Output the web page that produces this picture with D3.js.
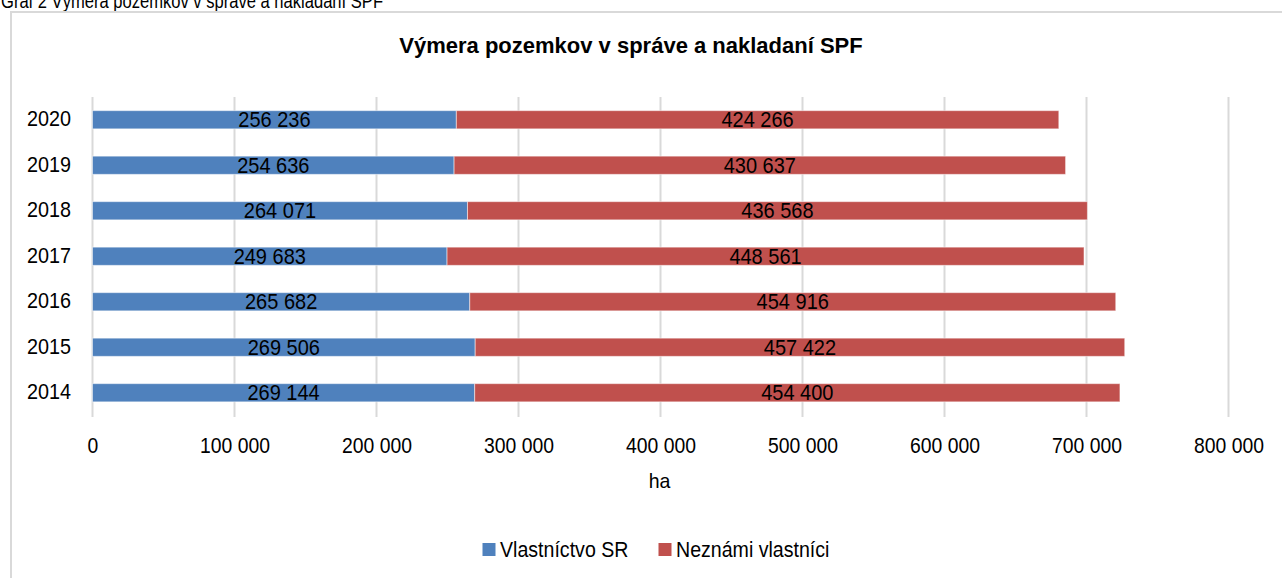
<!DOCTYPE html>
<html>
<head>
<meta charset="utf-8">
<script src="https://cdn.jsdelivr.net/npm/d3@7"></script>
<style>
  body { margin: 0; background: #fff; overflow: hidden; }
  text { font-family: "Liberation Sans", Arial, sans-serif; fill: #000; }
</style>
</head>
<body>
<div id="viz"></div>
<script>
var years = ["2020", "2019", "2018", "2017", "2016", "2015", "2014"];
var vlastnictvo = [256236, 254636, 264071, 249683, 265682, 269506, 269144];
var neznami = [424266, 430637, 436568, 448561, 454916, 457422, 454400];
var seriesNames = ["Vlastníctvo SR", "Neznámi vlastníci"];
var xTicks = [0, 100000, 200000, 300000, 400000, 500000, 600000, 700000, 800000];

var width = 1282, height = 578;
var svg = d3.select("#viz").append("svg").attr("width", width).attr("height", height);

var color = d3.scaleOrdinal().domain(seriesNames).range(["#4f81bd", "#c0504d"]);
var fmt = function(v) { return d3.format(",")(v).replace(/,/g, " "); };

// squeeze text horizontally (the original uses a narrow font)
function narrow(sel, k) {
  sel.each(function() {
    var w = this.getComputedTextLength();
    d3.select(this).attr("textLength", w * k).attr("lengthAdjust", "spacingAndGlyphs");
  });
}

// caption above the frame (cut off at top)
svg.append("text")
    .attr("x", 1)
    .attr("y", 8)
    .attr("textLength", 382)
    .attr("lengthAdjust", "spacingAndGlyphs")
    .style("font-size", "20px")
    .text("Graf 2  Výmera pozemkov v správe a nakladaní SPF");

// chart frame
svg.append("rect")
    .attr("x", 11)
    .attr("y", 12)
    .attr("width", 1300)
    .attr("height", 600)
    .attr("fill", "#fff")
    .attr("stroke", "#d9d9d9")
    .attr("stroke-width", 2);

svg.append("text")
    .attr("x", 631)
    .attr("y", 53)
    .attr("text-anchor", "middle")
    .style("font-size", "22px")
    .style("font-weight", "bold")
    .text("Výmera pozemkov v správe a nakladaní SPF");

var x = d3.scaleLinear().domain([0, 800000]).range([92.5, 1228.5]);
var y = d3.scaleBand().domain(years).range([97, 415.5]).paddingInner(0.6).paddingOuter(0.3);

// gridlines
svg.append("g")
  .selectAll("line")
  .data(xTicks)
  .enter().append("line")
    .attr("x1", function(d) { return x(d); })
    .attr("x2", function(d) { return x(d); })
    .attr("y1", 97)
    .attr("y2", 417)
    .attr("stroke", "#d9d9d9")
    .attr("stroke-width", 2);

var stackData = years.map(function(yr, i) {
  return { year: yr, "Vlastníctvo SR": vlastnictvo[i], "Neznámi vlastníci": neznami[i] };
});
var stacked = d3.stack().keys(seriesNames)(stackData);

var layer = svg.append("g").selectAll("g")
  .data(stacked)
  .enter().append("g")
    .attr("fill", function(d) { return color(d.key); });

layer.selectAll("rect")
  .data(function(d) { return d; })
  .enter().append("rect")
    .attr("x", function(d) { return x(d[0]); })
    .attr("y", function(d) { return y(d.data.year); })
    .attr("width", function(d) { return x(d[1]) - x(d[0]); })
    .attr("height", y.bandwidth())
    .attr("stroke", "#fff")
    .attr("stroke-opacity", 0.5)
    .attr("stroke-width", 1);

layer.selectAll("text")
  .data(function(d) { return d; })
  .enter().append("text")
    .attr("x", function(d) { return (x(d[0]) + x(d[1])) / 2; })
    .attr("y", function(d) { return y(d.data.year) + y.bandwidth() / 2; })
    .attr("dy", "0.35em")
    .attr("text-anchor", "middle")
    .style("font-size", "21.5px")
    .text(function(d) { return fmt(d[1] - d[0]); })
    .call(narrow, 0.93);

// category axis
var yAxis = svg.append("g")
    .attr("transform", "translate(80,0)")
    .call(d3.axisLeft(y).tickSize(0).tickPadding(9));
yAxis.select(".domain").remove();
yAxis.selectAll("text")
    .attr("font-family", null)
    .attr("dy", "0.29em")
    .style("font-size", "21.5px")
    .call(narrow, 0.92);

// value axis
var xAxis = svg.append("g")
    .attr("transform", "translate(0,437)")
    .call(d3.axisBottom(x).tickValues(xTicks).tickSize(0).tickPadding(0).tickFormat(fmt));
xAxis.select(".domain").remove();
xAxis.selectAll("text")
    .attr("font-family", null)
    .attr("dy", "0.74em")
    .style("font-size", "22px")
    .call(narrow, 0.88);

svg.append("text")
    .attr("x", 659.5)
    .attr("y", 488)
    .attr("text-anchor", "middle")
    .style("font-size", "21px")
    .text("ha")
    .call(narrow, 0.93);

// legend
var legend = svg.append("g").selectAll("g")
  .data(seriesNames)
  .enter().append("g")
    .attr("transform", function(d, i) { return "translate(" + [482.5, 658.5][i] + ",543)"; });

legend.append("rect")
    .attr("width", 13)
    .attr("height", 13)
    .attr("fill", function(d) { return color(d); });

legend.append("text")
    .attr("x", 17.5)
    .attr("y", 14)
    .style("font-size", "22px")
    .text(function(d) { return d; })
    .call(narrow, 0.89);
</script>
</body>
</html>
